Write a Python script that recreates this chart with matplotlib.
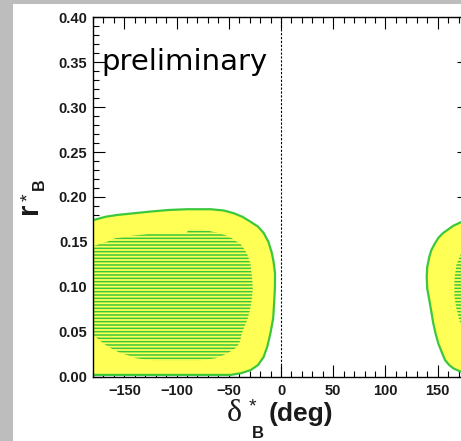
import numpy as np
import matplotlib
matplotlib.use("Agg")
import matplotlib.pyplot as plt
from matplotlib.patches import Rectangle, Polygon
from matplotlib.ticker import MultipleLocator, FormatStrFormatter

# Allowed region in the (delta_B*, r_B*) plane, delta in degrees (unwrapped, periodic in 360)
outer_delta = [-180, -188, -195, -199, -203, -206, -209.4, -212, -214.2, -216, -218,
               -220, -220.5, -220, -218, -216, -212.6, -209, -204.7, -195, -187.6,
               -179, -168, -157, -140, -125, -108, -90, -67.5, -55, -45.3, -37,
               -29.3, -22, -16.6, -12, -8.6, -7, -5.7, -5.8, -6.4, -7.5, -10, -13,
               -16.6, -22, -29, -38, -48]
outer_r = [0.002, 0.0056, 0.0093, 0.013, 0.0186, 0.027, 0.037, 0.048, 0.0594, 0.072,
           0.0854, 0.098, 0.111, 0.122, 0.1336, 0.141, 0.1485, 0.155, 0.160, 0.168,
           0.172, 0.1745, 0.178, 0.180, 0.182, 0.1838, 0.1855, 0.1864, 0.1864, 0.185,
           0.182, 0.178, 0.1726, 0.167, 0.160, 0.150, 0.137, 0.127, 0.115, 0.100,
           0.085, 0.065, 0.049, 0.034, 0.022, 0.013, 0.0074, 0.004, 0.002]

inner_delta = [-89, -76, -60, -52, -47, -42, -39, -35.7, -32.5, -29.3, -27.7, -27, -28,
               -29.6, -32, -36, -38, -39, -42, -45, -50, -55, -63, -78, -122, -138,
               -147, -155, -161, -165.5, -170, -176, -180, -185, -189, -192, -194, -194,
               -192, -188, -184, -180, -173, -167, -159, -144, -118, -100, -90]
inner_r = [0.164, 0.164, 0.160, 0.157, 0.154, 0.150, 0.148, 0.143, 0.137, 0.126, 0.111,
           0.098, 0.085, 0.075, 0.064, 0.053, 0.046, 0.040, 0.0334, 0.0305, 0.027, 0.024,
           0.0205, 0.0178, 0.0178, 0.0205, 0.024, 0.027, 0.0305, 0.0334, 0.037, 0.0427,
           0.046, 0.053, 0.062, 0.075, 0.09, 0.108, 0.125, 0.136, 0.142, 0.145, 0.148,
           0.150, 0.154, 0.1567, 0.160, 0.160, 0.160]

wrap_shifts = [0, 360]

W, H = 461, 441
YELLOW = "#ffff55"
GREEN = "#3cc83c"

plt.rcParams["font.family"] = ["Liberation Sans", "DejaVu Sans"]
plt.rcParams["hatch.linewidth"] = 1.1

fig = plt.figure(figsize=(W / 100, H / 100), dpi=100)
fig.patch.set_facecolor("#bdbdbd")
fig.add_artist(Rectangle((13 / W, 0), 1, (H - 4) / H, transform=fig.transFigure,
                         facecolor="white", edgecolor="none", zorder=-5))

ax = fig.add_axes([93 / W, 64.3 / H, 376 / W, 359.4 / H])
ax.set_xlim(-180, 180)
ax.set_ylim(0.0, 0.40)

for s in wrap_shifts:
    outer = np.column_stack([np.array(outer_delta) + s, outer_r])
    inner = np.column_stack([np.array(inner_delta) + s, inner_r])
    ax.add_patch(Polygon(outer, closed=True, facecolor=YELLOW, edgecolor=GREEN,
                         linewidth=1.6, joinstyle="round", zorder=2))
    ax.add_patch(Polygon(inner, closed=True, facecolor=YELLOW, edgecolor=GREEN,
                         linewidth=0, hatch="-----", zorder=3))

ax.axvline(0, color="black", linewidth=0.8, linestyle=(0, (2, 1.5)), zorder=4)

ax.xaxis.set_major_locator(MultipleLocator(50))
ax.xaxis.set_minor_locator(MultipleLocator(10))
ax.yaxis.set_major_locator(MultipleLocator(0.05))
ax.yaxis.set_minor_locator(MultipleLocator(0.01))
ax.yaxis.set_major_formatter(FormatStrFormatter("%.2f"))
ax.tick_params(which="both", direction="in", top=True, right=True, width=0.8,
               colors="black", labelcolor="#1a1a1a", labelsize=10.5)
ax.tick_params(which="major", length=8.5)
ax.tick_params(which="minor", length=4.5)
ax.tick_params(axis="x", pad=5)
ax.tick_params(axis="y", pad=4)
for lab in ax.get_xticklabels() + ax.get_yticklabels():
    lab.set_fontweight("bold")
for sp in ax.spines.values():
    sp.set_linewidth(1.0)
    sp.set_zorder(5)


def fx(px):
    return px / W


def fy(py):
    return 1 - py / H


# x axis title: delta*_B (deg)
fig.text(fx(227), fy(421), "δ", family="Liberation Serif", fontsize=23,
         ha="left", va="baseline", color="#1a1a1a")
fig.text(fx(249), fy(411), "*", fontsize=14, ha="left", va="baseline", color="#1a1a1a")
fig.text(fx(251.5), fy(438.5), "B", fontsize=12, fontweight="bold",
         ha="left", va="baseline", color="#1a1a1a")
fig.text(fx(269), fy(421), "(deg)", fontsize=19, fontweight="bold",
         ha="left", va="baseline", color="#1a1a1a")

# y axis title: r*_B
fig.text(fx(37), fy(214), "r", fontsize=21, fontweight="bold", rotation=90,
         rotation_mode="anchor", ha="left", va="baseline", color="#1a1a1a")
fig.text(fx(33.5), fy(201), "*", fontsize=14, rotation=90,
         rotation_mode="anchor", ha="left", va="baseline", color="#1a1a1a")
fig.text(fx(43.5), fy(190), "B", fontsize=11.5, fontweight="bold", rotation=90,
         rotation_mode="anchor", ha="left", va="baseline", color="#1a1a1a")

ax.text(-172, 0.3415, "preliminary", family="DejaVu Sans", fontsize=21,
        ha="left", va="baseline", color="black", zorder=6)

fig.savefig("out.png", dpi=100, facecolor=fig.get_facecolor())
